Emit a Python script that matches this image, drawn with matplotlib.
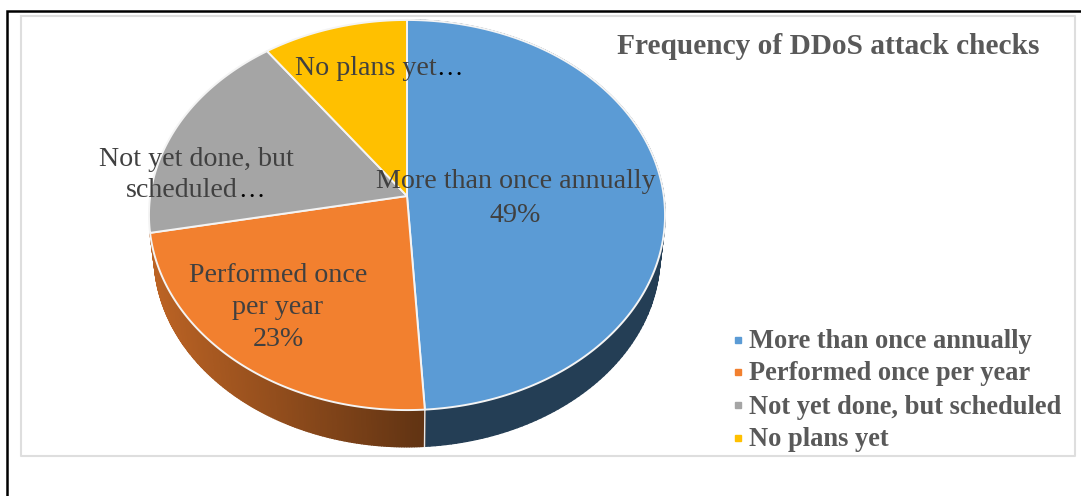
import numpy as np
import matplotlib
matplotlib.use('Agg')
import matplotlib.pyplot as plt
from matplotlib.colors import to_rgb
from matplotlib.collections import PolyCollection

# Frequency of DDoS attack checks, share of respondents in percent
categories = ['More than once annually', 'Performed once per year',
              'Not yet done, but scheduled', 'No plans yet']
shares = [49, 23, 18, 10]
colours = ['#5B9BD5', '#F2802F', '#A5A5A5', '#FFC000']
title = 'Frequency of DDoS attack checks'

plt.rcParams['font.family'] = ['Liberation Serif', 'DejaVu Serif']

W, H = 1081, 496
fig = plt.figure(figsize=(W / 100, H / 100), dpi=100)
ax = fig.add_axes([0, 0, 1, 1])
ax.set_xlim(0, W)
ax.set_ylim(H, 0)
ax.axis('off')

# page frame and chart border
ax.plot([1081, 7, 7], [10.5, 10.5, 496], color='black', lw=1.8, solid_joinstyle='miter')
ax.plot([21, 1075, 1075, 21, 21], [15.5, 15.5, 455.5, 455.5, 15.5], color='#DEDEDE', lw=1.5)

# pie in perspective: unit disc mapped on to the screen
cx, cy = 407, 196
a, b, k = 256.8, 193.2, 0.0975
depth, shrink = 41, 0.98


def project(theta, lower=False):
    u, v = np.sin(theta), np.cos(theta)
    w = 1 + k * v
    s = shrink if lower else 1.0
    return cx + s * a * u / w, cy + (depth if lower else 0) - s * b * v / w


edges = np.cumsum([0] + shares) / sum(shares) * 2 * np.pi

# side wall, seen only on the front of the disc
quads, quad_cols = [], []
for i in range(2):
    ts = np.linspace(edges[i], edges[i + 1], 160)
    for t0, t1 in zip(ts[:-1], ts[1:]):
        x0, y0 = project(t0)
        x1, y1 = project(t1)
        x2, y2 = project(t1, lower=True)
        x3, y3 = project(t0, lower=True)
        quads.append([(x0, y0), (x1, y1), (x2, y2), (x3, y3)])
        rgb = np.array(to_rgb(colours[i]))
        if i == 1:
            # orange wall gets lighter towards the left
            f = 0.40 + 0.37 * np.clip((425 - x0) / 270, 0, 1)
        else:
            f = 0.40
        quad_cols.append(rgb * f)
ax.add_collection(PolyCollection(quads, facecolors=quad_cols, edgecolors=quad_cols, linewidths=1.0, zorder=2))

# seam between the two visible walls
sx0, sy0 = project(edges[1])
sx1, sy1 = project(edges[1], lower=True)
ax.plot([sx0, sx1], [sy0, sy1], color='#E8E8E8', lw=1.0, zorder=3)

# top face
for i, colour in enumerate(colours):
    ts = np.linspace(edges[i], edges[i + 1], 200)
    xs, ys = project(ts)
    ax.fill(np.r_[cx, xs], np.r_[cy, ys], facecolor=colour, edgecolor='#F4F4F4', lw=1.4, zorder=4, joinstyle='round')

# data labels
lab_col = '#404040'
lab_size = 20.2
ax.text(516, 182, 'More than once annually', ha='center', va='center', fontsize=lab_size, color=lab_col, zorder=5)
ax.text(515, 215, f'{shares[0]}%', ha='center', va='center', fontsize=lab_size, color=lab_col, zorder=5)
ax.text(278, 276, 'Performed once', ha='center', va='center', fontsize=lab_size, color=lab_col, zorder=5)
ax.text(278, 308, 'per year', ha='center', va='center', fontsize=lab_size, color=lab_col, zorder=5)
ax.text(278, 340, f'{shares[1]}%', ha='center', va='center', fontsize=lab_size, color=lab_col, zorder=5)
ax.text(196, 159, 'Not yet done, but', ha='center', va='center', fontsize=lab_size, color=lab_col, zorder=5)
ax.text(126, 197, 'scheduled', ha='left', va='baseline', fontsize=lab_size, color=lab_col, zorder=5)
ax.text(238, 197, '…', ha='left', va='baseline', fontsize=19, color='black', zorder=5)
ax.text(295, 75, 'No plans yet', ha='left', va='baseline', fontsize=lab_size, color=lab_col, zorder=5)
ax.text(436, 75, '…', ha='left', va='baseline', fontsize=19, color='black', zorder=5)

ax.text(828, 46, title, ha='center', va='center', fontsize=21.2, fontweight='bold', color='#595959', zorder=5)

# legend
leg_y = [340, 372, 405, 438]
for name, colour, y in zip(categories, colours, leg_y):
    ax.plot(737.5, y, marker='s', ms=5, mfc=colour, mec=colour, zorder=5)
    ax.text(749, y + 2, name, ha='left', va='center', fontsize=19.1, fontweight='bold', color='#595959', zorder=5)

fig.savefig('out.png', dpi=100)
